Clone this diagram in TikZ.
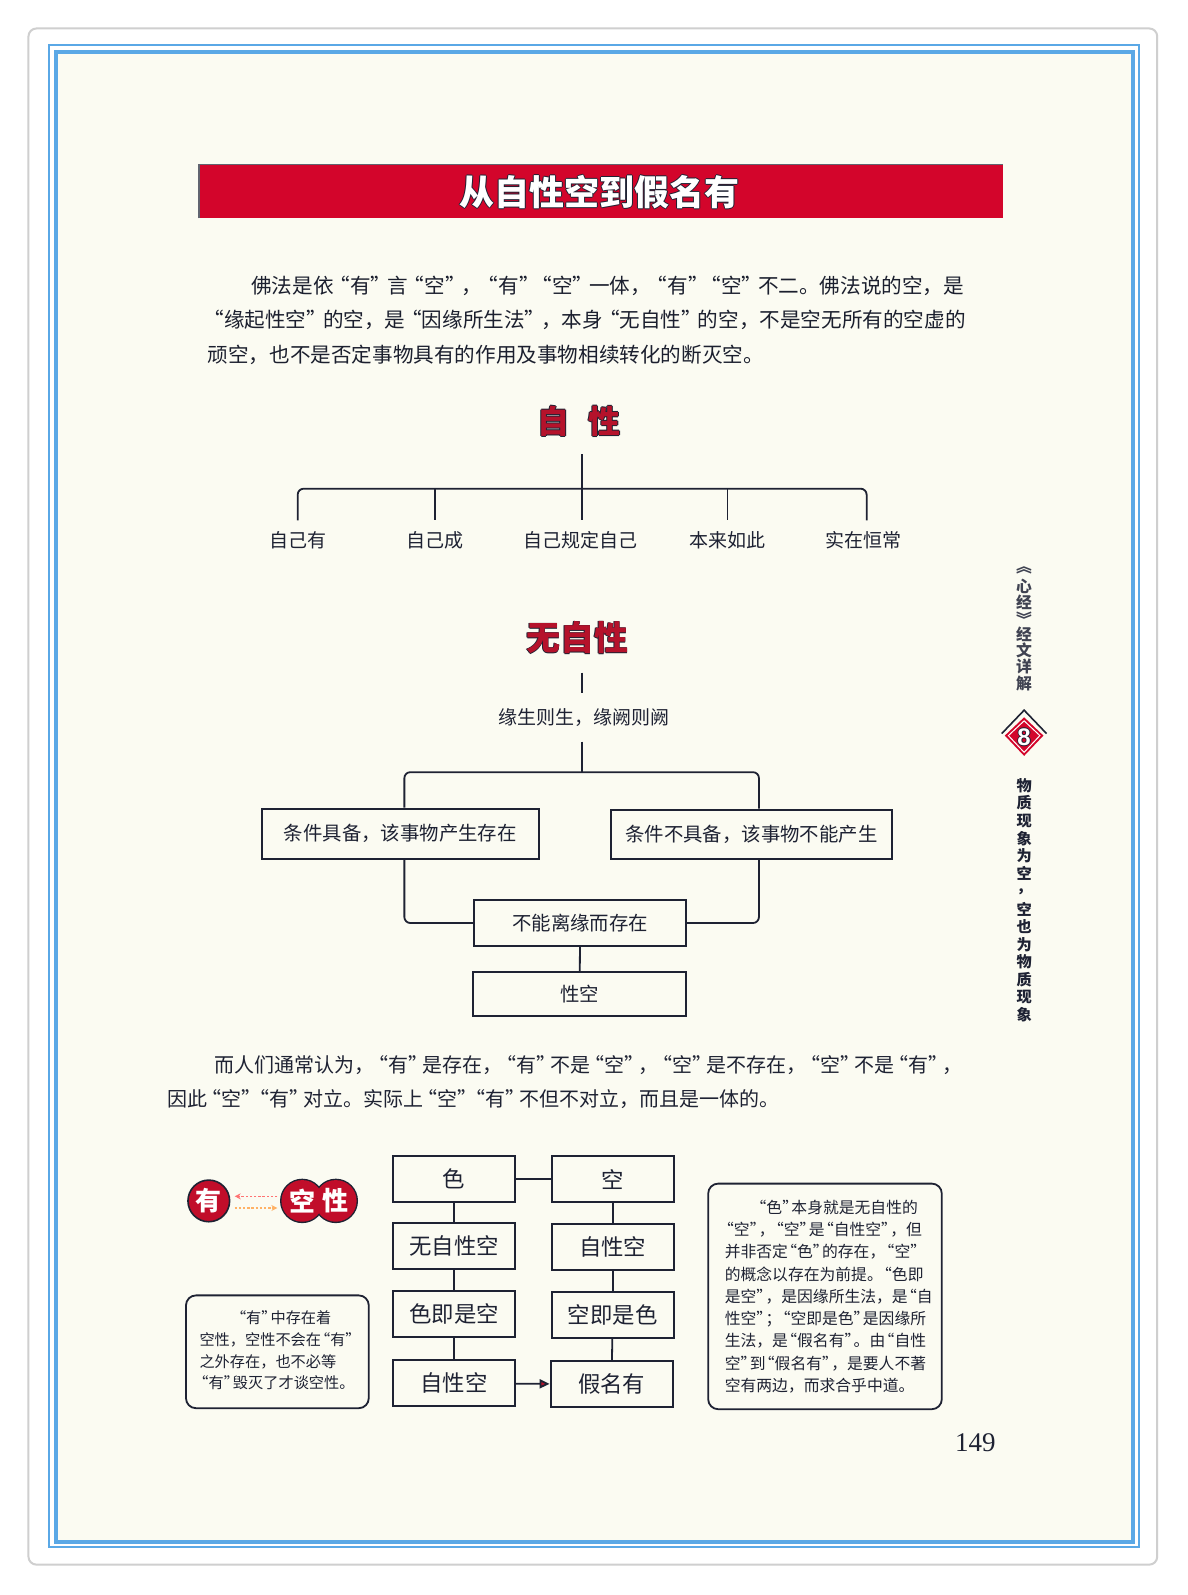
\documentclass[tikz,border=0pt]{standalone}
\usepackage{fontspec}
\setmainfont{Noto Sans CJK SC}[RawFeature=+fwid]
\newfontfamily\numfont{Liberation Serif}
\newfontfamily\sansnum{Liberation Sans}
\usetikzlibrary{arrows.meta}
\definecolor{cream}{HTML}{FBFBF2}
\definecolor{pblue}{HTML}{5AA8E6}
\definecolor{bred}{HTML}{D3052B}
\definecolor{hred}{HTML}{B5122B}
\definecolor{cred}{HTML}{C10D2A}
\definecolor{ink}{HTML}{1E2233}
\definecolor{frgray}{HTML}{CFCFCF}
\newcommand{\fs}[1]{\fontsize{#1}{#1}\selectfont}
\newcommand{\qwidth}{0.7em}
\newcommand{\lqbox}{\makebox[\qwidth][r]{\char"201C}}
\newcommand{\rqbox}{\makebox[\qwidth][l]{\char"201D}}
\catcode"201C=\active
\catcode"201D=\active
\def“{\lqbox}
\def”{\rqbox}
\newcommand{\outlined}[5]{%
  \foreach \dx/\dy [count=\k] in {0.45/0,-0.45/0,0/0.45,0/-0.45}
    \node[inner sep=0pt, text=ink, font=#3] (#1o\k) at ([xshift=\dx pt, yshift=\dy pt]#2) {#5};
  \node[inner sep=0pt, text=#4, font=#3] (#1) at (#2) {#5};}
\begin{document}
\begin{tikzpicture}[x=0.508pt,y=-0.508pt,
  line/.style={draw=ink, line width=0.9pt},
  bx/.style={draw=ink, line width=1pt, inner sep=0pt, text=ink, font=\fs{9.7pt}},
  gb/.style={draw=ink, line width=1pt, inner sep=0pt, text=ink, font=\fs{11.2pt},
     minimum width=61pt, minimum height=22.9pt},
  lab/.style={inner sep=0pt, text=ink, font=\fs{9.5pt}},
  para/.style={anchor=west, inner sep=0pt, text=ink!90!black, font={\fs{10.3pt}\def\qwidth{0.8em}}},
  parb/.style={anchor=west, inner sep=0pt, text=ink, font={\fs{10pt}\def\qwidth{0.7em}}},
  notel/.style={anchor=west, inner sep=0pt, text=ink, font={\fs{7.6pt}\def\qwidth{0.6em}}},
  noter/.style={anchor=west, inner sep=0pt, text=ink, font={\fs{7.9pt}\def\qwidth{0.58em}}},
  side/.style={inner sep=0pt, text=ink, font=\bfseries\fs{7.9pt}},
  circtxt/.style={inner sep=0pt, text=white, font=\bfseries\fs{13pt}},
  dar/.style={draw=red!55, line width=0.7pt, dash pattern=on 1.2pt off 0.9pt,
     -{Stealth[length=3pt,width=3pt]}},
  note/.style={draw=ink, line width=0.9pt, rounded corners=5pt, inner sep=0pt}
]
\useasboundingbox (0,0) rectangle (1169.3,1569.9);
\fill[white] (0,0) rectangle (1169.3,1569.9);
% page frame
\draw[frgray, line width=1pt, rounded corners=4pt] (28,28) rectangle (1139,1540);
\draw[pblue, line width=1pt] (48,44) rectangle (1121,1523);
\draw[pblue, line width=2pt, fill=cream] (55,51) rectangle (1115,1518);

% title banner
\fill[bred] (196,162) rectangle (987,215);
\draw[ink!70, line width=0.8pt] (196,215) -- (196,162) -- (987,162);
\outlined{title}{590,189}{\bfseries\fs{17.5pt}}{white}{从自性空到假名有}

% paragraph 1
\node[para] (p1) at (247,281) {佛法是依“有”言“空”，“有”“空”一体，“有”“空”不二。佛法说的空，是};
\node[para] (p2) at (204,315) {“缘起性空”的空，是“因缘所生法”，本身“无自性”的空，不是空无所有的空虚的};
\node[para] (p3) at (204,349) {顽空，也不是否定事物具有的作用及事物相续转化的断灭空。};

% tree 1
\outlined{zx}{570,415}{\bfseries\fs{16pt}}{hred}{自\hspace{0.6em}性}
\node[lab] (l1) at (293,532) {自己有};
\node[lab] (l2) at (428,532) {自己成};
\node[lab] (l3) at (571,532) {自己规定自己};
\node[lab] (l4) at (716,532) {本来如此};
\node[lab] (l5) at (850,532) {实在恒常};
\coordinate (zxb) at (573,447);
\coordinate (j3) at (573,481);
\draw[line] (zxb) -- ([yshift=5.5pt]573,0 |- l3.north);
\draw[line, rounded corners=3pt] ([yshift=5.5pt]l1.north) |- (j3) -| ([yshift=5.5pt]853,0 |- l5.north);
\draw[line] (428,0 |- j3) -- ([yshift=5.5pt]l2.north);
\draw[line] (716,0 |- j3) -- ([yshift=5.5pt]l4.north);

% tree 2
\outlined{wzx}{568,628}{\bfseries\fs{17pt}}{hred}{无自性}
\coordinate (a1) at (573,662);
\coordinate (a2) at (573,682);
\draw[line] (a1) -- (a2);
\node[lab] (yuan) at (575,706) {缘生则生，缘阙则阙};
\coordinate (b1) at (573,730);
\coordinate (b2) at (573,760);
\draw[line] (b1) -- (b2);
\node[bx, minimum width=138.2pt, minimum height=24.9pt] (bl) at (394,820.5) {条件具备，该事物产生存在};
\node[bx, minimum width=140.7pt, minimum height=24.4pt] (br) at (739.5,821) {条件不具备，该事物不能产生};
\node[bx, minimum width=105.7pt, minimum height=22.9pt] (bc) at (571,908.5) {不能离缘而存在};
\node[bx, minimum width=106.2pt, minimum height=21.8pt] (bd) at (570.5,978.5) {性空};
\draw[line, rounded corners=3pt] (398,0 |- bl.north) |- (b2) -| (747,0 |- br.north);
\draw[line, rounded corners=3pt] (398,0 |- bl.south) |- (bc.west);
\draw[line, rounded corners=3pt] (747,0 |- br.south) |- (bc.east);
\draw[line] (bc) -- (bd);

% sidebar
\foreach \c [count=\i from 0] in {︽,心,经,︾,经,文,详,解}
  \node[side, text=ink!85] (st\i) at (1008,{561+15.9*\i}) {\c};
\fill[bred] (1008,706) -- (1027,724) -- (1008,744) -- (989,724) -- cycle;
\draw[white, line width=0.5pt] (1008,709.5) -- (1023.5,724) -- (1008,740.5) -- (992.5,724) -- cycle;
\draw[ink, line width=0.8pt] (986,722) -- (1008,699) -- (1030,722);
\outlined{badge}{1008,725.5}{\sansnum\bfseries\fs{12pt}}{white}{8}
\foreach \c [count=\i from 0] in {物,质,现,象,为,空,，,空,也,为,物,质,现,象}
  \node[side, font=\bfseries\fs{7.6pt}] (sb\i) at (1008,{773+17.4*\i}) {\c};

% paragraph 2
\node[parb] (q1) at (211,1048) {而人们通常认为，“有”是存在，“有”不是“空”，“空”是不存在，“空”不是“有”，};
\node[parb] (q2) at (164,1082) {因此“空”“有”对立。实际上“空”“有”不但不对立，而且是一体的。};

% circles
\fill[cred] (205.5,1182) circle[radius=20.5];
\draw[ink, line width=0.8pt] (205.5,1182) circle[radius=20.5];
\draw[ink, line width=1.4pt] (297.5,1182) circle[radius=20.5] (330.5,1182) circle[radius=20.5];
\fill[cred] (297.5,1182) circle[radius=20.5] (330.5,1182) circle[radius=20.5];
\node[circtxt] (cy) at (205.5,1182) {有};
\node[circtxt] (kx1) at (297.5,1182) {空};
\node[circtxt] (kx2) at (330.5,1182) {性};
\coordinate (ua) at (273,1177.5);
\coordinate (ub) at (231,1177.5);
\coordinate (va) at (231,1189);
\coordinate (vb) at (273,1189);
\draw[dar] (ua) -- (ub);
\draw[dar, draw=orange!60] (va) -- (vb);

% grid
\node[gb] (g1) at (447,1160.5) {色};
\node[gb] (g2) at (447,1226.5) {无自性空};
\node[gb] (g3) at (447,1293.5) {色即是空};
\node[gb] (g4) at (447,1361.5) {自性空};
\node[gb] (k1) at (603,1160.5) {空};
\node[gb] (k2) at (603,1227) {自性空};
\node[gb] (k3) at (603,1294) {空即是色};
\node[gb] (k4) at (602,1362.5) {假名有};
\draw[line] (g1) -- (k1);
\draw[line] (g1) -- (g2);
\draw[line] (g2) -- (g3);
\draw[line] (g3) -- (g4);
\draw[line] (k1) -- (k2);
\draw[line] (k2) -- (k3);
\draw[line] (k3) -- (k4);
\draw[line, -{Triangle[length=5pt,width=4.5pt,fill=hred]}] (g4) -- (k4);

% note boxes
\node[note, minimum width=91.4pt, minimum height=56.4pt] (nl) at (273,1330.5) {};
\node[notel] (n1) at (233,1297) {“有”中存在着};
\node[notel] (n2) at (196,1319) {空性，空性不会在“有”};
\node[notel] (n3) at (196,1340) {之外存在，也不必等};
\node[notel] (n4) at (196,1361) {“有”毁灭了才谈空性。};

\node[note, minimum width=116.8pt, minimum height=112.8pt] (nr) at (812,1276) {};
\node[noter] (r1) at (745,1188) {“色”本身就是无自性的};
\node[noter] (r2) at (713,1210) {“空”，“空”是“自性空”，但};
\node[noter] (r3) at (713,1232) {并非否定“色”的存在，“空”};
\node[noter] (r4) at (713,1254) {的概念以存在为前提。“色即};
\node[noter] (r5) at (713,1276) {是空”，是因缘所生法，是“自};
\node[noter] (r6) at (713,1298) {性空”；“空即是色”是因缘所};
\node[noter] (r7) at (713,1320) {生法，是“假名有”。由“自性};
\node[noter] (r8) at (713,1342) {空”到“假名有”，是要人不著};
\node[noter] (r9) at (713,1364) {空有两边，而求合乎中道。};

% page number
\node[inner sep=0pt, text=ink, font=\numfont\fs{13.5pt}] (pg) at (960,1420) {149};
\end{tikzpicture}
\end{document}
